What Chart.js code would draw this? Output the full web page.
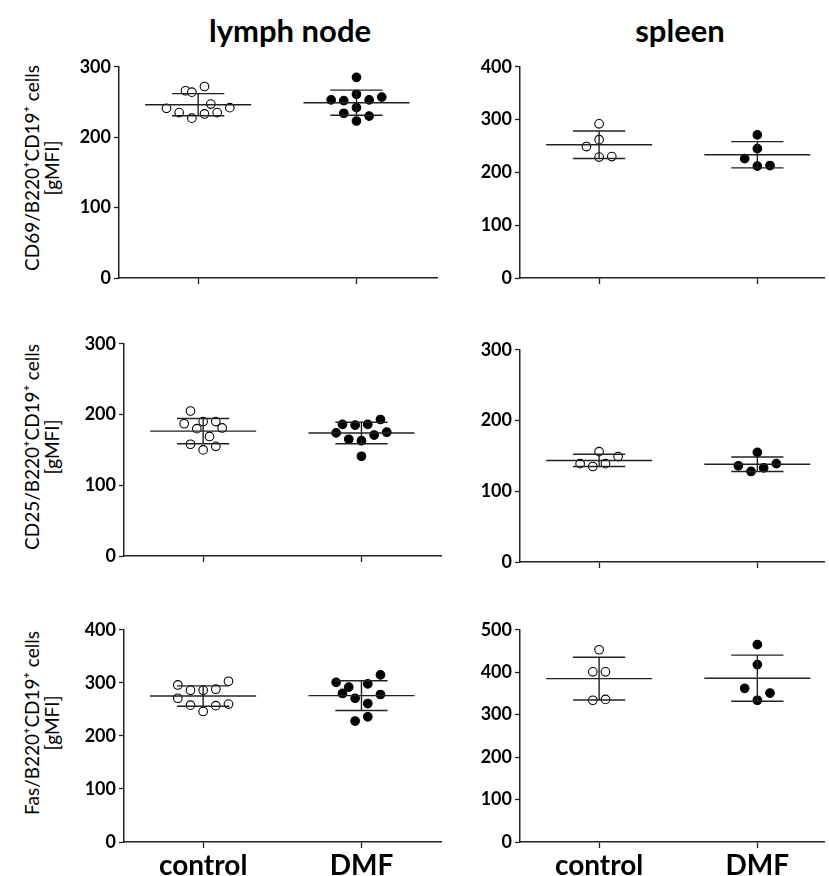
<!DOCTYPE html>
<html>
<head>
<meta charset="utf-8">
<script src="https://cdn.jsdelivr.net/npm/chart.js@4.4.1/dist/chart.umd.min.js"></script>
<style>
  body { margin: 0; background: #fff; font-family: Lato, "Open Sans", sans-serif; color: #000; }
  #page { position: relative; width: 829px; height: 876px; overflow: hidden; }
  canvas { position: absolute; }
  .head { position: absolute; top: 11px; font-weight: bold; font-size: 31px; text-align: center; width: 260px; color: #000; }
  .ytitle { position: absolute; width: 260px; text-align: center; font-size: 19px; line-height: 20px; color: #000; transform: rotate(-90deg); transform-origin: center center; }
</style>
</head>
<body>
<div id="page">
  <div class="head" style="left:160px">lymph node</div>
  <div class="head" style="left:550px">spleen</div>
  <div class="ytitle" style="left:-88px;top:148px">CD69/B220⁺CD19⁺ cells<br>[gMFI]</div>
  <div class="ytitle" style="left:-88px;top:427px">CD25/B220⁺CD19⁺ cells<br>[gMFI]</div>
  <div class="ytitle" style="left:-88px;top:703px">Fas/B220⁺CD19⁺ cells<br>[gMFI]</div>
  <canvas id="p1"></canvas>
  <canvas id="p2"></canvas>
  <canvas id="p3"></canvas>
  <canvas id="p4"></canvas>
  <canvas id="p5"></canvas>
  <canvas id="p6"></canvas>
</div>
<script>
const groups = ["control", "DMF"];

// CD69 - lymph node
const cd69LnControl = [266, 264, 272, 241, 247, 242, 235, 233, 235, 227];
const cd69LnControlSlot = [-1, -0.5, 0.5, -2.5, 1, 2.5, -1.5, 0.5, 1.5, -0.5];
const cd69LnDmf = [285, 253, 252, 261, 253, 257, 242, 234, 230, 223];
const cd69LnDmfSlot = [0, -2, -1, 0, 1, 2, 0, -1, 1, 0];
// CD69 - spleen
const cd69SpControl = [292, 262, 249, 229, 230];
const cd69SpControlSlot = [0, 0, -1, 0, 1];
const cd69SpDmf = [271, 245, 226, 212, 213];
const cd69SpDmfSlot = [0, 0, -1, 0, 1];

// CD25 - lymph node
const cd25LnControl = [205, 187, 190, 190, 180, 181, 169, 158, 155, 150];
const cd25LnControlSlot = [-1, -1.5, 0, 1, -0.5, 1.5, 0.5, -1, 1, 0];
const cd25LnDmf = [186, 185, 186, 193, 174, 175, 165, 171, 163, 141];
const cd25LnDmfSlot = [-1.5, -0.5, 0.5, 1.5, -2, 2, -1, 1, 0, 0];
// CD25 - spleen
const cd25SpControl = [156, 139, 135, 139, 149];
const cd25SpControlSlot = [0, -1.5, -0.5, 0.5, 1.5];
const cd25SpDmf = [155, 136, 128, 133, 139];
const cd25SpDmfSlot = [0, -1.5, -0.5, 0.5, 1.5];

// Fas - lymph node
const fasLnControl = [296, 286, 286, 288, 303, 271, 258, 246, 257, 260];
const fasLnControlSlot = [-2, -1, 0, 1, 2, -2, -1, 0, 1, 2];
const fasLnDmf = [301, 292, 280, 298, 315, 271, 278, 261, 236, 228];
const fasLnDmfSlot = [-2, -1, -1.5, 0.5, 1.5, -0.5, 1.5, 0.5, 0.5, -0.5];
// Fas - spleen
const fasSpControl = [453, 401, 401, 334, 336];
const fasSpControlSlot = [0, -0.5, 0.5, -0.5, 0.5];
const fasSpDmf = [465, 418, 362, 351, 334];
const fasSpDmfSlot = [0, 0, -1, 1, 0];

const slotWidth = 0.08;
const meanHalf = 0.335;
const sdHalf = 0.165;
const Y_AXIS_W = 50;
const PAD_TOP = 12;

const panels = [
  { id: "p1", left: 119, top: 65, right: 441, bottom: 278, yMax: 300,
    ctrl: cd69LnControl, ctrlSlot: cd69LnControlSlot, dmf: cd69LnDmf, dmfSlot: cd69LnDmfSlot },
  { id: "p2", left: 520, top: 65, right: 828, bottom: 278, yMax: 400,
    ctrl: cd69SpControl, ctrlSlot: cd69SpControlSlot, dmf: cd69SpDmf, dmfSlot: cd69SpDmfSlot },
  { id: "p3", left: 124, top: 342, right: 445, bottom: 556, yMax: 300,
    ctrl: cd25LnControl, ctrlSlot: cd25LnControlSlot, dmf: cd25LnDmf, dmfSlot: cd25LnDmfSlot },
  { id: "p4", left: 520, top: 348, right: 828, bottom: 562, yMax: 300,
    ctrl: cd25SpControl, ctrlSlot: cd25SpControlSlot, dmf: cd25SpDmf, dmfSlot: cd25SpDmfSlot },
  { id: "p5", left: 124, top: 628, right: 445, bottom: 842, yMax: 400, labels: true,
    ctrl: fasLnControl, ctrlSlot: fasLnControlSlot, dmf: fasLnDmf, dmfSlot: fasLnDmfSlot },
  { id: "p6", left: 520, top: 628, right: 828, bottom: 842, yMax: 500, labels: true,
    ctrl: fasSpControl, ctrlSlot: fasSpControlSlot, dmf: fasSpDmf, dmfSlot: fasSpDmfSlot }
];

function mean(a) {
  return a.reduce((s, v) => s + v, 0) / a.length;
}
function sd(a) {
  const m = mean(a);
  return Math.sqrt(a.reduce((s, v) => s + (v - m) * (v - m), 0) / (a.length - 1));
}

function seg(x1, y1, x2, y2) {
  return {
    data: [{ x: x1, y: y1 }, { x: x2, y: y2 }],
    showLine: true, borderColor: "#222", borderWidth: 1.4,
    pointRadius: 0, order: 0
  };
}

// mean line plus SD whiskers, worked out from the values
function summary(vals, cx) {
  const m = mean(vals), s = sd(vals);
  return [
    seg(cx - meanHalf, m, cx + meanHalf, m),
    seg(cx - sdHalf, m + s, cx + sdHalf, m + s),
    seg(cx - sdHalf, m - s, cx + sdHalf, m - s),
    seg(cx, m - s, cx, m + s)
  ];
}

function points(vals, slots, cx, filled) {
  return {
    data: vals.map((v, i) => ({ x: cx + slots[i] * slotWidth, y: v })),
    pointRadius: 4.3,
    pointBackgroundColor: filled ? "#000" : "#fff",
    pointBorderColor: "#000",
    pointBorderWidth: 1.1,
    showLine: false,
    order: 1
  };
}

panels.forEach(p => {
  const xH = p.labels ? 34 : 18;
  const cv = document.getElementById(p.id);
  cv.width = p.right - p.left + Y_AXIS_W + 2;
  cv.height = p.bottom - p.top + PAD_TOP + xH;
  cv.style.left = (p.left - Y_AXIS_W) + "px";
  cv.style.top = (p.top - PAD_TOP) + "px";
  const xMax = 0.5 + (p.right - p.left) / 160;

  new Chart(cv, {
    type: "scatter",
    data: {
      datasets: [
        ...summary(p.ctrl, 1),
        ...summary(p.dmf, 2),
        points(p.ctrl, p.ctrlSlot, 1, false),
        points(p.dmf, p.dmfSlot, 2, true)
      ]
    },
    options: {
      responsive: false,
      animation: false,
      devicePixelRatio: 1,
      layout: { padding: { top: PAD_TOP, right: 2, left: 0, bottom: 0 } },
      plugins: { legend: { display: false }, tooltip: { enabled: false } },
      scales: {
        x: {
          type: "linear", min: 0.5, max: xMax,
          afterBuildTicks: s => { s.ticks = [{ value: 1 }, { value: 2 }]; },
          afterFit: s => { s.height = xH; },
          border: { color: "#222", width: 1.5 },
          grid: { drawOnChartArea: false, tickLength: 6, color: "#222", tickWidth: 1.3 },
          ticks: {
            display: !!p.labels,
            padding: 1,
            color: "#000",
            font: { family: "Lato", weight: "bold", size: 28 },
            callback: v => groups[v - 1] || ""
          }
        },
        y: {
          min: 0, max: p.yMax,
          afterFit: s => { s.width = Y_AXIS_W; },
          border: { color: "#222", width: 1.5 },
          grid: { drawOnChartArea: false, tickLength: 5, color: "#222", tickWidth: 1.3 },
          ticks: {
            stepSize: 100, padding: 3, color: "#000",
            font: { family: "Lato", weight: "bold", size: 18 }
          }
        }
      }
    }
  });
});
</script>
</body>
</html>
